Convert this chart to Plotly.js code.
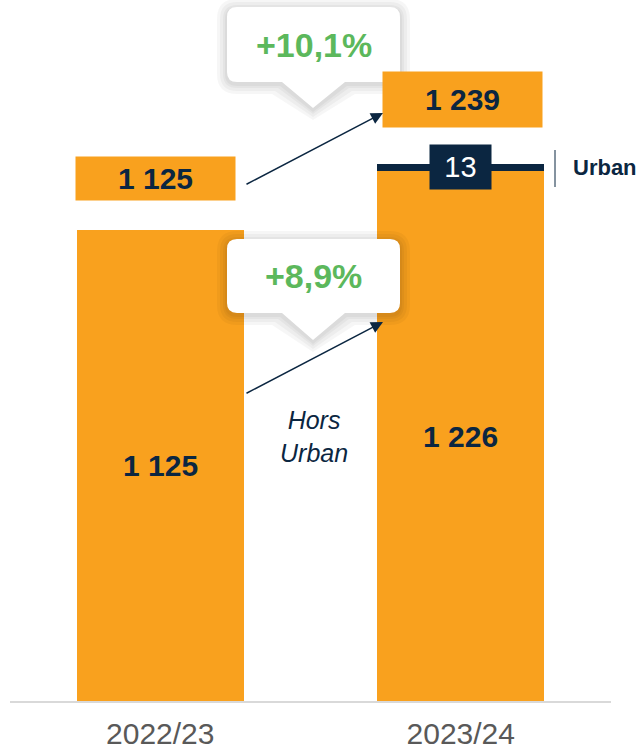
<!DOCTYPE html>
<html>
<head>
<meta charset="utf-8">
<script src="https://cdn.plot.ly/plotly-3.0.1.min.js"></script>
<style>html,body{margin:0;padding:0;background:#fff;}#chart{width:644px;height:755px;}</style>
</head>
<body>
<div id="chart"></div>
<script>
// ---- data ----
const categories = ['2022/23', '2023/24'];
const horsUrban = [1125, 1226];
const urban = [0, 13];
const totals = [1125, 1239];
const growthTotal = '+10,1%';
const growthHorsUrban = '+8,9%';
const segmentNames = ['Hors Urban', 'Urban'];

// ---- style ----
const ORANGE = '#F9A11E';
const NAVY = '#0B2641';
const GREEN = '#5CB85C';
const GREY = '#595959';
const FONT = 'Liberation Sans, Arial, sans-serif';

const L = 10, R = 33, T = 0, B = 54;
const W = 644 - L - R, H = 755 - T - B;
const px = x => (x - L) / W;
const py = y => (T + H - y) / H;
const yRange = [312, 1521];

const fmt = v => String(v).replace(/\B(?=(\d{3})+(?!\d))/g, ' ');

const traces = [
  {type: 'bar', name: segmentNames[0], x: categories, y: horsUrban, marker: {color: ORANGE}, width: 0.556, hoverinfo: 'none'},
  {type: 'bar', name: segmentNames[1], x: categories, y: urban, marker: {color: NAVY}, width: 0.556, hoverinfo: 'none'}
];

function calloutPath(x0, y0, x1, y1, r, b0, b1, tx, ty, e, dy) {
  x0 -= e; y0 -= e - dy; x1 += e; y1 += e + dy; r += e; ty += e + dy;
  const P = (x, y) => px(x).toFixed(5) + ',' + py(y).toFixed(5);
  return 'M' + P(x0 + r, y0) + ' L' + P(x1 - r, y0) + ' Q' + P(x1, y0) + ' ' + P(x1, y0 + r) +
    ' L' + P(x1, y1 - r) + ' Q' + P(x1, y1) + ' ' + P(x1 - r, y1) +
    ' L' + P(b1 + e, y1) + ' L' + P(tx, ty) + ' L' + P(b0 - e, y1) +
    ' L' + P(x0 + r, y1) + ' Q' + P(x0, y1) + ' ' + P(x0, y1 - r) +
    ' L' + P(x0, y0 + r) + ' Q' + P(x0, y0) + ' ' + P(x0 + r, y0) + ' Z';
}

const shapes = [];
const callouts = [
  [227, 7, 400, 82, 10, 282, 345, 313, 108],
  [227, 239, 400, 313, 10, 282, 345, 313, 340]
];
callouts.forEach(c => {
  [10, 7, 4, 2].forEach(e => {
    shapes.push({type: 'path', xref: 'paper', yref: 'paper', layer: 'above',
      path: calloutPath(c[0], c[1], c[2], c[3], c[4], c[5], c[6], c[7], c[8], e, 2),
      fillcolor: 'rgba(0,0,0,0.035)', line: {width: 0}});
  });
  shapes.push({type: 'path', xref: 'paper', yref: 'paper', layer: 'above',
    path: calloutPath(c[0], c[1], c[2], c[3], c[4], c[5], c[6], c[7], c[8], 0, 0),
    fillcolor: '#FFFFFF', line: {width: 0}});
});
shapes.push({type: 'line', xref: 'paper', yref: 'paper', x0: px(555), x1: px(555), y0: py(150), y1: py(187),
  line: {color: NAVY, width: 1}});

const annotations = [];
// values inside bars
categories.forEach((c, i) => {
  annotations.push({x: c, y: (yRange[0] + horsUrban[i]) / 2, xref: 'x', yref: 'y', text: fmt(horsUrban[i]),
    showarrow: false, xanchor: 'center', yanchor: 'middle',
    font: {family: FONT, size: 30, color: NAVY, weight: 700}});
});
// totals boxes
const totalBoxes = [[155.5, 178.5, 43], [462.5, 99.5, 55]];
categories.forEach((c, i) => {
  const b = totalBoxes[i];
  annotations.push({x: px(b[0]), y: py(b[1]), xref: 'paper', yref: 'paper', text: fmt(totals[i]),
    showarrow: false, bgcolor: ORANGE, width: 159, height: b[2], borderpad: 0, xanchor: 'center', yanchor: 'middle',
    font: {family: FONT, size: 30, color: NAVY, weight: 700}});
});
// urban segment label
annotations.push({x: categories[1], y: horsUrban[1] + urban[1] / 2, xref: 'x', yref: 'y', text: String(urban[1]),
  showarrow: false, bgcolor: NAVY, width: 61, height: 44, borderpad: 0, xanchor: 'center', yanchor: 'middle',
  font: {family: FONT, size: 29, color: '#FFFFFF'}});
annotations.push({x: px(571), y: horsUrban[1] + urban[1] / 2, xref: 'paper', yref: 'y', text: segmentNames[1],
  xanchor: 'left', yanchor: 'middle', showarrow: false, font: {family: FONT, size: 22, color: NAVY, weight: 700}});
annotations.push({x: px(314), y: py(436), xref: 'paper', yref: 'paper', text: segmentNames[0].replace(' ', '<br>'),
  xanchor: 'center', yanchor: 'middle', showarrow: false, font: {family: FONT, size: 25, color: NAVY, style: 'italic'}});
// growth callouts
annotations.push({x: px(313.5), y: py(45), xref: 'paper', yref: 'paper', text: growthTotal, showarrow: false,
  xanchor: 'center', yanchor: 'middle', font: {family: FONT, size: 34, color: GREEN, weight: 700}});
annotations.push({x: px(313.5), y: py(276), xref: 'paper', yref: 'paper', text: growthHorsUrban, showarrow: false,
  xanchor: 'center', yanchor: 'middle', font: {family: FONT, size: 34, color: GREEN, weight: 700}});
// arrows
[[113, 185], [322, 394]].forEach(a => {
  annotations.push({x: px(383), y: py(a[0]), xref: 'paper', yref: 'paper', text: '', showarrow: true,
    ax: 245 - 383, ay: a[1] - a[0], arrowhead: 2, arrowsize: 1.6, arrowwidth: 1.5, arrowcolor: NAVY, standoff: 0});
});

const layout = {
  width: 644, height: 755,
  margin: {l: L, r: R, t: T, b: B, pad: 0},
  paper_bgcolor: '#FFFFFF', plot_bgcolor: '#FFFFFF',
  barmode: 'stack', showlegend: false,
  xaxis: {type: 'category', range: [-0.5, 1.5], showline: true, linecolor: '#D9D9D9', linewidth: 2,
    ticks: '', showgrid: false, zeroline: false, fixedrange: true, ticklabelstandoff: 5,
    tickfont: {family: FONT, size: 30, color: GREY}},
  yaxis: {range: yRange, visible: false, showgrid: false, zeroline: false, fixedrange: true},
  shapes: shapes,
  annotations: annotations,
  font: {family: FONT}
};

Plotly.newPlot('chart', traces, layout, {displayModeBar: false, staticPlot: true});
</script>
</body>
</html>
